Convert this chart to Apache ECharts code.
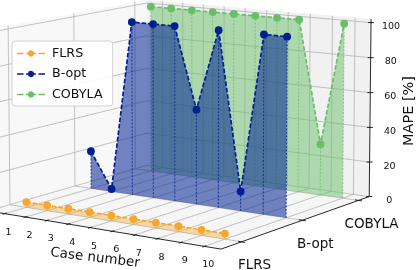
<!DOCTYPE html>
<html><head><meta charset="utf-8">
<style>html,body{margin:0;padding:0;background:#fff}#c{width:416px;height:270px}</style>
<script src="https://cdn.jsdelivr.net/npm/echarts@6/dist/echarts.min.js"></script>
</head><body><div id="c"></div>
<script>
const cases = [1,2,3,4,5,6,7,8,9,10];
const methods = ['FLRS','B-opt','COBYLA'];
const flrs   = [3,3,3,3,3,3,3,3,3,3];
const bopt   = [22,1.5,100,100,100,54,100,11,100,100];
const cobyla = [100,100,100,100,100,100,100,100,29.5,100];
const zTicks = [0,20,40,60,80,100];
const colors = {FLRS:'#f5a82e','B-opt':'#00208f',COBYLA:'#69bf69'};

// Camera calibration of the 3D box: [case,row,z] -> screen position
const calib = [
 [1,1,0,91,187],[10,1,0,286,217],[10,2,0,343,198],[1,2,0,151,172],
 [1,2,100,151,6.7],[10,2,100,344,24],[3,1,100,131.7,21.7],[10,1,100,287.3,36.7],
 [1,0,3,26.7,202.7],[10,0,3,224.7,234.3]
];
const box = {c0:0.2,c1:10.7,r0:-0.32,r1:2.2,z0:0,z1:102};

function solve(A,b){const n=b.length;for(let i=0;i<n;i++){let p=i;for(let k=i+1;k<n;k++)if(Math.abs(A[k][i])>Math.abs(A[p][i]))p=k;
 [A[i],A[p]]=[A[p],A[i]];[b[i],b[p]]=[b[p],b[i]];
 for(let k=i+1;k<n;k++){const f=A[k][i]/A[i][i];for(let j=i;j<n;j++)A[k][j]-=f*A[i][j];b[k]-=f*b[i];}}
 const x=new Array(n);for(let i=n-1;i>=0;i--){let s=b[i];for(let j=i+1;j<n;j++)s-=A[i][j]*x[j];x[i]=s/A[i][i];}return x;}
const H=(function(){const N=11,A=[],b=[];for(let i=0;i<N;i++){A.push(new Array(N).fill(0));b.push(0);}
 function add(row,rhs){for(let i=0;i<N;i++){for(let j=0;j<N;j++)A[i][j]+=row[i]*row[j];b[i]+=row[i]*rhs;}}
 calib.forEach(p=>{const X=p[0]/10,Y=p[1]/2,Z=p[2]/100,u=p[3]/400,v=p[4]/400;
  add([1,X,Y,Z,0,0,0,0,-u*X,-u*Y,-u*Z],u);add([0,0,0,0,1,X,Y,Z,-v*X,-v*Y,-v*Z],v);});
 for(let i=0;i<N;i++)A[i][i]+=1e-10;return solve(A,b);})();
function proj(c,r,z){const X=c/10,Y=r/2,Z=z/100,w=1+H[8]*X+H[9]*Y+H[10]*Z;
 return [400*(H[0]+H[1]*X+H[2]*Y+H[3]*Z)/w,400*(H[4]+H[5]*X+H[6]*Y+H[7]*Z)/w];}

const GRID='#b4b4b4';
function line(api,a,b,stroke,lw,dash,z2){return {type:'line',z2:z2||0,shape:{x1:api.coord(a)[0],y1:api.coord(a)[1],x2:api.coord(b)[0],y2:api.coord(b)[1]},style:{stroke:stroke,lineWidth:lw,lineDash:dash||null}};}
function poly(api,pts,fill){return {type:'polygon',shape:{points:pts.map(p=>api.coord(p))},style:{fill:fill,stroke:null}};}
function label(api,p,text,size,rot,align){const q=api.coord(p);return {type:'text',x:q[0],y:q[1],rotation:(rot||0)*Math.PI/180,style:{text:text,fontFamily:'DejaVu Sans',fontSize:size,fill:'#111',align:align||'center',verticalAlign:'middle'}};}

function renderBox(params,api){
 const {c0,c1,r0,r1,z0,z1}=box,ch=[];
 ch.push(poly(api,[proj(c0,r0,z0),proj(c1,r0,z0),proj(c1,r1,z0),proj(c0,r1,z0)],'#f6f6f6'));
 ch.push(poly(api,[proj(c0,r0,z0),proj(c0,r1,z0),proj(c0,r1,z1),proj(c0,r0,z1)],'#f8f8f8'));
 ch.push(poly(api,[proj(c0,r1,z0),proj(c1,r1,z0),proj(c1,r1,z1),proj(c0,r1,z1)],'#f1f1f1'));
 cases.forEach(c=>{ch.push(line(api,proj(c,r0,0),proj(c,r1,0),GRID,.8));ch.push(line(api,proj(c,r1,0),proj(c,r1,z1),GRID,.8));});
 methods.forEach((m,r)=>{ch.push(line(api,proj(c0,r,0),proj(c1,r,0),GRID,.8));ch.push(line(api,proj(c0,r,0),proj(c0,r,z1),GRID,.8));});
 zTicks.forEach(z=>{ch.push(line(api,proj(c0,r0,z),proj(c0,r1,z),GRID,.8));ch.push(line(api,proj(c0,r1,z),proj(c1,r1,z),GRID,.8));});
 // axes
 ch.push(line(api,proj(c0,r0,0),proj(c1,r0,0),'#111',.9));
 ch.push(line(api,proj(c1,r0,0),proj(c1,r1,0),'#111',.9));
 ch.push(line(api,proj(c1,r1,0),proj(c1,r1,z1),'#111',.9));
 cases.forEach(c=>{ch.push(line(api,proj(c,r0+.03,0),proj(c,r0-.03,0),'#111',.9));
   const q=proj(c,r0,0);ch.push(label(api,[q[0]+4,q[1]+18.5],String(c),9.5));});
 methods.forEach((m,r)=>{const q=proj(c1,r,0);ch.push(line(api,proj(c1-.15,r,0),proj(c1+.15,r,0),'#111',.9));
   ch.push(label(api,[q[0]+13,q[1]+24],m,13.5));});
 zTicks.forEach(z=>{const q=proj(c1,r1,z);ch.push(line(api,[q[0]-3,q[1]],[q[0]+3,q[1]],'#111',.9));
   ch.push(label(api,[q[0]+20,q[1]+4],String(z),9.5));});
 ch.push(label(api,[95,258],'Case number',13.5,-7));
 ch.push(label(api,[409,111],'MAPE [%]',14.5,90));
 return {type:'group',children:ch};
}
function makeSeries(name,row,values,fillAlpha,dropW){
 const col=colors[name];
 return {name:name,type:'custom',coordinateSystem:'cartesian2d',clip:false,
  data:values.map((v,i)=>[cases[i],row,v]),
  encode:{x:0,y:2},
  itemStyle:{color:col},
  renderItem:function(params,api){
   const i=params.dataIndex,c=api.value(0),r=api.value(1),v=api.value(2),ch=[];
   if(i===0){
    const top=values.map((d,k)=>proj(cases[k],row,d));
    const base=cases.map(k=>proj(k,row,0)).reverse();
    ch.push({type:'polygon',shape:{points:top.concat(base).map(p=>api.coord(p))},style:{fill:col,opacity:fillAlpha,stroke:null}});
   }
   ch.push(line(api,proj(c,r,0),proj(c,r,v),col,dropW,[2,1.5]));
   if(i===0){
    ch.push({type:'polyline',shape:{points:values.map((d,k)=>api.coord(proj(cases[k],row,d)))},style:{stroke:col,lineWidth:1.7,lineDash:[4.5,2],fill:null}});
   }
   const q=api.coord(proj(c,r,v));
   ch.push({type:'circle',shape:{cx:q[0],cy:q[1],r:3.9},style:{fill:col,stroke:null}});
   return {type:'group',children:ch};
  }};
}
const legendIcon='path://M0 6.2H7V7.8H0ZM9.7 6.2H11.7A3.4 3.4 0 0 1 18.3 6.2H20.3V7.8H18.3A3.4 3.4 0 0 1 11.7 7.8H9.7ZM23 6.2H30V7.8H23Z';
const chart=echarts.init(document.getElementById('c'),null,{renderer:'canvas'});
chart.setOption({
 animation:false,
 grid:{left:0,right:0,top:0,bottom:0},
 xAxis:{type:'value',min:0,max:416,show:false},
 yAxis:{type:'value',min:0,max:270,inverse:true,show:false},
 legend:{show:true,orient:'vertical',left:12,top:41,padding:[6,10,5,5],itemGap:7.5,itemWidth:28,itemHeight:14,
  backgroundColor:'rgba(255,255,255,.9)',borderColor:'#d2d2d2',borderWidth:1,borderRadius:3,
  textStyle:{fontFamily:'DejaVu Sans',fontSize:12.7,color:'#111',padding:[0,0,0,2]},
  data:methods.map(m=>({name:m,icon:legendIcon}))},
 series:[
  {name:'box',type:'custom',coordinateSystem:'cartesian2d',clip:false,data:[[0,0]],silent:true,renderItem:renderBox,z:1},
  Object.assign(makeSeries('COBYLA',2,cobyla,.5,.8),{z:2}),
  Object.assign(makeSeries('B-opt',1,bopt,.55,.8),{z:3}),
  Object.assign(makeSeries('FLRS',0,flrs,.4,.8),{z:4})
 ]
});
</script></body></html>
